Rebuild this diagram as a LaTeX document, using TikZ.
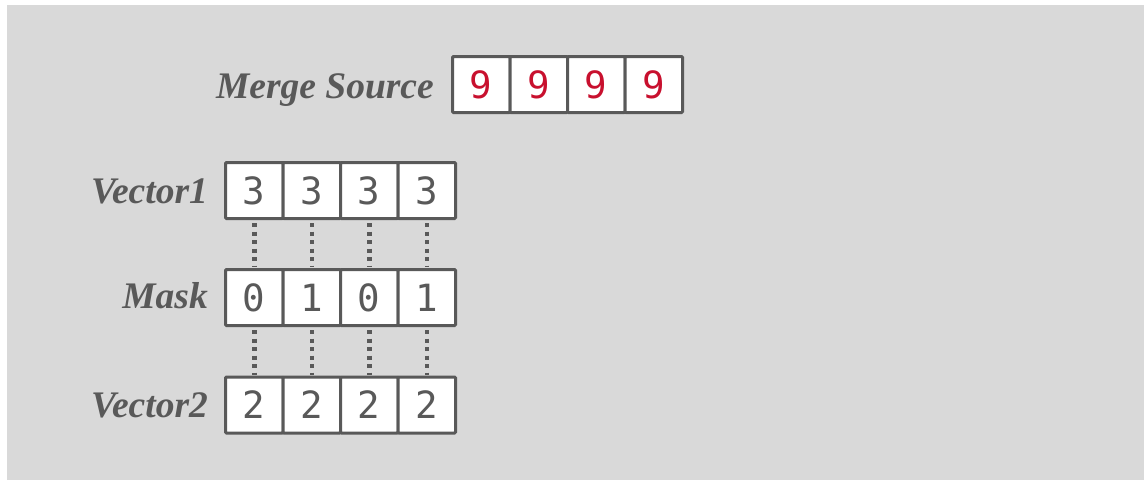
\documentclass[tikz,border=0pt]{standalone}
\usepackage{fontspec}
\setmainfont{Liberation Serif}
\newfontfamily\digitfont{DejaVu Sans Mono}
\definecolor{bgray}{HTML}{D9D9D9}
\definecolor{ink}{HTML}{595959}
\definecolor{mred}{HTML}{C8102E}
\begin{document}
\begin{tikzpicture}[x=1pt,y=-1pt,
  cell/.style={draw=ink,line width=3pt,fill=white,minimum width=57.5pt,minimum height=56pt,inner sep=0pt,rounded corners=1pt,
    font=\digitfont\fontsize{37.5}{40}\selectfont,text=ink},
  redcell/.style={cell,text=mred},
  lab/.style={anchor=base east,inner sep=0pt,text=ink,font=\bfseries\itshape\fontsize{37.5}{40}\selectfont},
  link/.style={draw=ink,line width=4.5pt,dash pattern=on 4pt off 4.5pt,shorten <=3pt,shorten >=1pt}]
\useasboundingbox (0,0) rectangle (1144,480);
\fill[white] (0,0) rectangle (1144,480);
\fill[bgray] (7,5) rectangle (1144,480);
% Merge source
\node[lab] (lms) at (434,98) {Merge Source};
\foreach \i/\x in {1/481.25,2/538.75,3/596.25,4/653.75}
  \node[redcell] (s\i) at (\x,84.5) {9};
% Vector1
\node[lab] (lv1) at (208,203) {Vector1};
\foreach \i/\x in {1/254.25,2/311.75,3/369.25,4/426.75}
  \node[cell] (a\i) at (\x,190.5) {3};
% Mask
\node[lab] (lm) at (208,308) {Mask};
\foreach \i/\x/\d in {1/254.25/0,2/311.75/1,3/369.25/0,4/426.75/1}
  \node[cell] (m\i) at (\x,297.5) {\d};
% Vector2
\node[lab] (lv2) at (208,417) {Vector2};
\foreach \i/\x in {1/254.25,2/311.75,3/369.25,4/426.75}
  \node[cell] (b\i) at (\x,405) {2};
% dotted links
\foreach \i in {1,2,3,4} {
  \draw[link] (a\i.south) -- (m\i.north);
  \draw[link] (m\i.south) -- (b\i.north);
}
\end{tikzpicture}
\end{document}
